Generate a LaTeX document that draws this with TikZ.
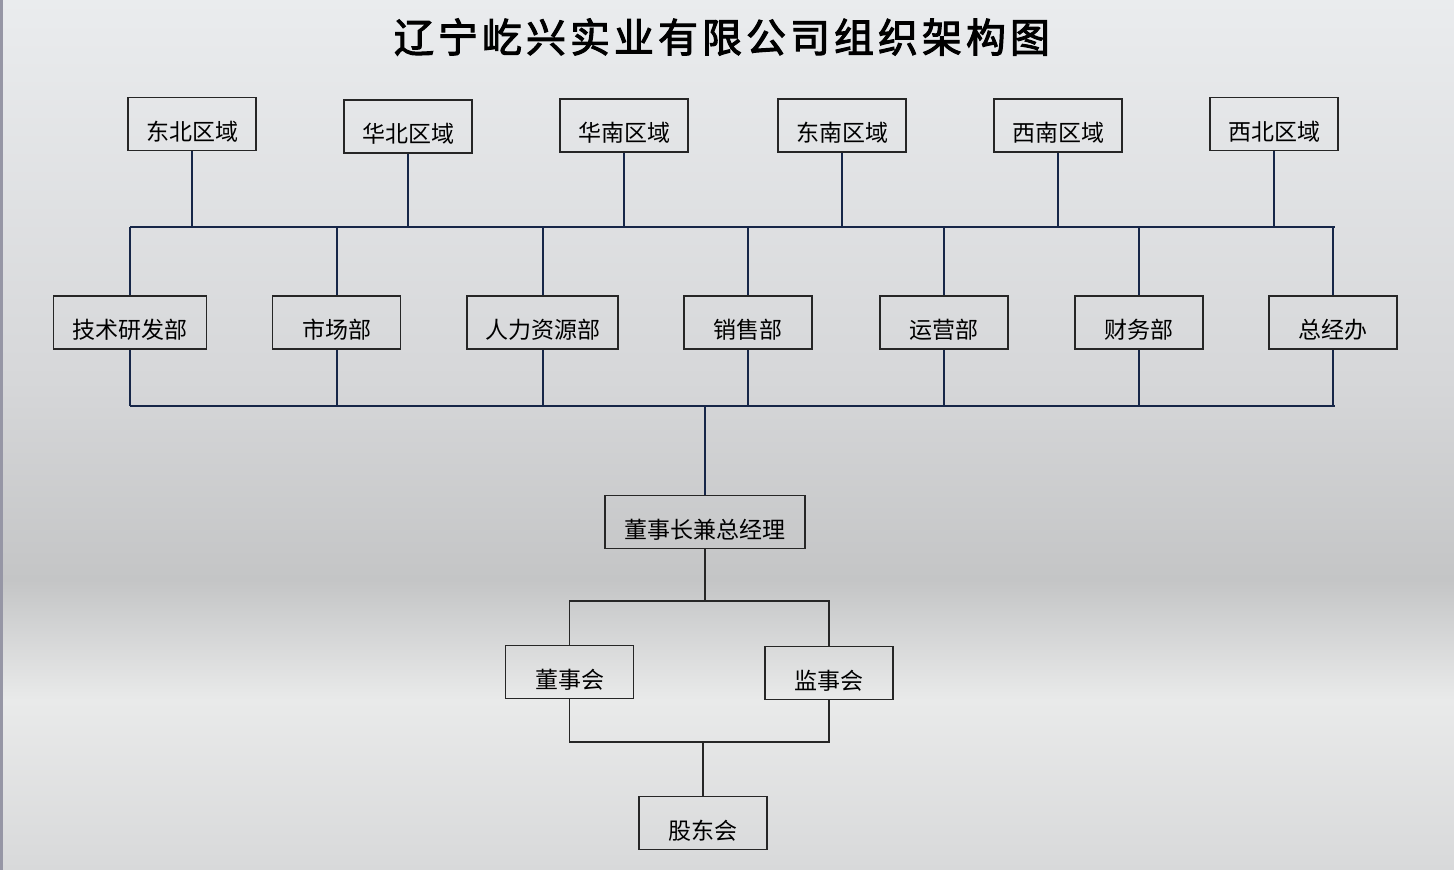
\documentclass[tikz,border=0pt]{standalone}
\usepackage{fontspec}
\setmainfont{Noto Sans CJK SC}
\newfontfamily\titlefont[FakeBold=2.5,LetterSpace=10]{Noto Sans CJK SC}
\usepackage{tikz}
\usetikzlibrary{calc}
\definecolor{linenavy}{RGB}{22,38,72}
\definecolor{bgtop}{RGB}{234,236,238}
\definecolor{bgmid}{RGB}{214,215,217}
\definecolor{bgdark}{RGB}{196,197,198}
\definecolor{bglight}{RGB}{233,234,234}
\definecolor{bgbottom}{RGB}{216,217,218}
\definecolor{stripgray}{RGB}{150,150,165}
\tikzset{
  box/.style={draw=black!85, line width=1.2pt, minimum width=128pt, minimum height=53pt,
    inner sep=0pt, font=\fontsize{23}{23}\selectfont, text height=33pt, text depth=1pt},
  navyline/.style={draw=linenavy, line width=2pt},
  blackline/.style={draw=black!85, line width=1.6pt}
}
\begin{document}
\begin{tikzpicture}[x=1pt,y=-1pt]
% background
\fill [top color=bgtop,bottom color=bgmid] (0,0) rectangle (1454,380);
\fill [top color=bgmid,bottom color=bgdark] (0,380) rectangle (1454,580);
\fill [top color=bgdark,bottom color=bglight] (0,580) rectangle (1454,700);
\fill [top color=bglight,bottom color=bgbottom] (0,700) rectangle (1454,870);
\fill [stripgray] (0,0) rectangle (3,870);
\useasboundingbox (0,0) rectangle (1454,870);
% title
\node (title) at (722,37) {\titlefont\fontsize{40}{40}\selectfont 辽宁屹兴实业有限公司组织架构图};
% regions
\node [box] (ne) at (192,124) {东北区域};
\node [box] (nc) at (408,126.5) {华北区域};
\node [box] (sc) at (624,125.5) {华南区域};
\node [box] (se) at (842,125.5) {东南区域};
\node [box] (sw) at (1058,125.5) {西南区域};
\node [box] (nw) at (1274,124) {西北区域};
% departments
\node [box,minimum width=153pt] (rd) at (129.7,322.5) {技术研发部};
\node [box] (mkt) at (336.5,322.5) {市场部};
\node [box,minimum width=151pt] (hr) at (542.5,322.5) {人力资源部};
\node [box] (sales) at (748,322.5) {销售部};
\node [box] (ops) at (944,322.5) {运营部};
\node [box] (fin) at (1139,322.5) {财务部};
\node [box] (gm) at (1333,322.5) {总经办};
% top
\node [box,minimum width=200pt] (ceo) at (705,522) {董事长兼总经理};
\node [box] (board) at (569.5,672) {董事会};
\node [box] (super) at (829,673) {监事会};
\node [box] (share) at (703,823) {股东会};
% buses
\coordinate (tl) at (130,227);
\coordinate (tr) at (1335,227);
\coordinate (bl) at (130,406);
\coordinate (br) at (1335,406);
\coordinate (split) at (705,601);
\coordinate (join) at (703,742);
\draw [navyline] (tl) -- (tr);
\draw [navyline] (bl) -- (br);
\foreach \r in {ne,nc,sc,se,sw,nw}
  \draw [navyline] (\r.south) -- (\r.south |- tl);
\foreach \d in {rd,mkt,hr,sales,ops,fin,gm}{
  \draw [navyline] (\d.north) -- (\d.north |- tl);
  \draw [navyline] (\d.south) -- (\d.south |- bl);
}
\draw [navyline] (ceo.north) -- (ceo.north |- bl);
\draw [blackline] (ceo.south) -- (split);
\draw [blackline] (board.north) |- (split) -| (super.north);
\draw [blackline] (board.south) |- (join) -| (super.south);
\draw [blackline] (join) -- (share.north);
\end{tikzpicture}
\end{document}
